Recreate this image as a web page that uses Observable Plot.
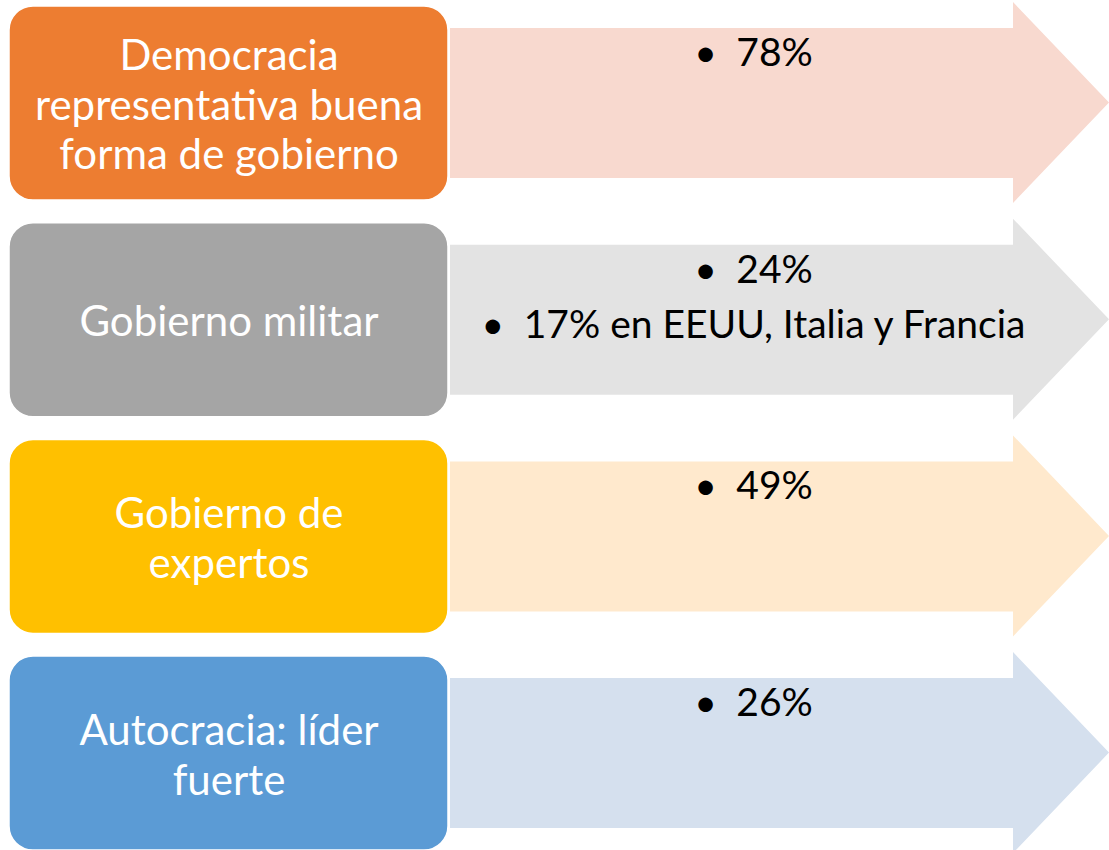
<!DOCTYPE html>
<html>
<head>
<meta charset="utf-8">
<script src="https://cdn.jsdelivr.net/npm/d3@7"></script>
<script src="https://cdn.jsdelivr.net/npm/@observablehq/plot@0.6"></script>
<style>
  html, body { margin: 0; padding: 0; background: #ffffff; }
  #chart svg { display: block; }
</style>
</head>
<body>
<div id="chart"></div>
<script>
// ---- data ----
const categories = [
  "Democracia\nrepresentativa buena\nforma de gobierno",
  "Gobierno militar",
  "Gobierno de\nexpertos",
  "Autocracia: líder\nfuerte"
];
const bulletLines = [
  ["78%"],
  ["24%", "17% en EEUU, Italia y Francia"],
  ["49%"],
  ["26%"]
];
const boxColors = ["#ED7D31", "#A5A5A5", "#FFC000", "#5B9BD5"];
const arrowColors = ["#F8D9CF", "#E3E3E3", "#FFE9CD", "#D5E0EE"];

// ---- layout constants ----
const W = 1109, H = 850;
const rowTop0 = 6, rowStep = 216.7, boxH = 194;
const boxX1 = 9, boxX2 = 448;
const shaftX = 450, headX = 1013, tipX = 1109;
const shaftT = 22, shaftB = 172, headT = -4, headB = 197, tipY = 96.5;
const bulletX = 753, bulletY0 = 47, bulletLH = 55;

const rows = categories.map((c, i) => ({
  i, label: c, top: rowTop0 + i * rowStep,
  box: boxColors[i], arrow: arrowColors[i]
}));

// arrow polygons as areas (x, y1, y2)
const arrowPts = rows.flatMap(r => [
  {i: r.i, fill: r.arrow, x: shaftX, y1: r.top + shaftT, y2: r.top + shaftB},
  {i: r.i, fill: r.arrow, x: headX,  y1: r.top + shaftT, y2: r.top + shaftB},
  {i: r.i, fill: r.arrow, x: headX,  y1: r.top + headT,  y2: r.top + headB},
  {i: r.i, fill: r.arrow, x: tipX,   y1: r.top + tipY,   y2: r.top + tipY}
]);

const bullets = rows.flatMap(r => bulletLines[r.i].map((t, k) => ({
  text: "•\u2002" + t, y: r.top + bulletY0 + k * bulletLH
})));

const font = "Lato, 'Open Sans', sans-serif";

const chart = Plot.plot({
  width: W, height: H,
  margin: 0,
  x: {domain: [0, W], axis: null},
  y: {domain: [0, H], reverse: true, axis: null},
  color: {type: "identity"},
  style: {background: "#ffffff", fontFamily: font},
  marks: [
    Plot.areaY(arrowPts, {x: "x", y1: "y1", y2: "y2", z: "i", fill: "fill", curve: "linear"}),
    Plot.rect(rows, {
      x1: () => boxX1, x2: () => boxX2,
      y1: d => d.top, y2: d => d.top + boxH,
      fill: "box", stroke: "#ffffff", strokeWidth: 1.5, rx: 24
    }),
    Plot.text(rows, {
      x: () => (boxX1 + boxX2) / 2, y: d => d.top + boxH / 2,
      text: "label", fill: "#ffffff", fontSize: 42, lineHeight: 1.19,
      textAnchor: "middle", lineAnchor: "middle", fontFamily: font
    }),
    Plot.text(bullets, {
      x: () => bulletX, y: "y", text: "text", fill: "#000000",
      fontSize: 39, textAnchor: "middle", lineAnchor: "middle", fontFamily: font
    })
  ]
});
document.getElementById("chart").appendChild(chart);
</script>
</body>
</html>
